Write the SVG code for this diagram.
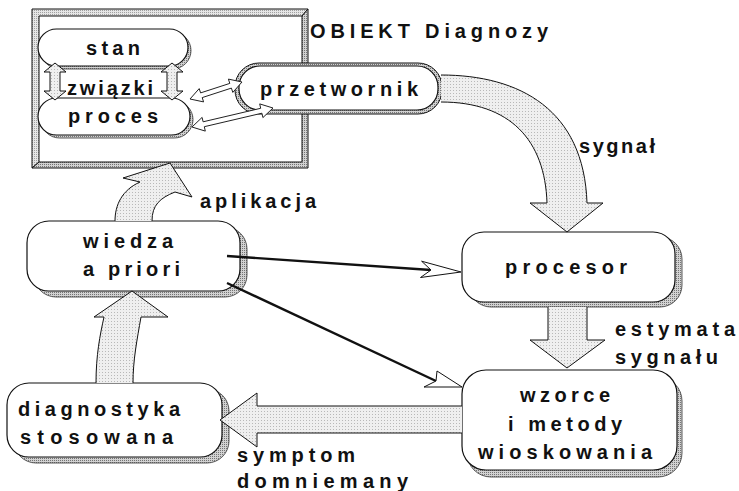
<svg xmlns="http://www.w3.org/2000/svg" width="739" height="491" viewBox="0 0 739 491">
  <defs>
    <!-- light stipple for block arrows -->
    <pattern id="stipple" width="3" height="3" patternUnits="userSpaceOnUse">
      <rect width="3" height="3" fill="#efefef"/>
      <rect width="1" height="1" fill="#b8b8b8"/>
    </pattern>
    <!-- darker hatch for shadows and frame -->
    <pattern id="hatch" width="2" height="2" patternUnits="userSpaceOnUse">
      <rect width="2" height="2" fill="#d2d2d2"/>
      <rect width="1" height="1" fill="#747474"/>
    </pattern>
    <pattern id="hatchLight" width="2" height="2" patternUnits="userSpaceOnUse">
      <rect width="2" height="2" fill="#e6e6e6"/>
      <rect width="1" height="1" fill="#a0a0a0"/>
    </pattern>
    <style>
      .lbl { font-family: "Liberation Sans", Arial, sans-serif; font-weight: bold; font-size: 20px; fill: #111; }
      .box { fill: #fff; stroke: #111; stroke-width: 1.2; }
      .shadow { fill: url(#hatch); stroke: #333; stroke-width: 0.8; }
      .block { fill: url(#stipple); stroke: #111; stroke-width: 1; stroke-linejoin: miter; }
      .dbl { fill: #fff; stroke: #222; stroke-width: 1; }
      .line { stroke: #111; stroke-width: 2.4; fill: none; }
      .head { fill: #fff; stroke: #111; stroke-width: 1; }
    </style>
  </defs>

  <rect width="739" height="491" fill="#fff"/>

  <!-- object frame -->
  <g id="obiekt">
    <polygon points="32,9 308,9 302,16 39,16 39,162 32,168" fill="url(#hatchLight)" stroke="#111" stroke-width="1"/>
    <polygon points="308,9 308,168 32,168 39,162 302,162 302,16" fill="url(#hatch)" stroke="#111" stroke-width="1"/>
    <text class="lbl" x="310" y="38" textLength="238" lengthAdjust="spacing">OBIEKT Diagnozy</text>
  </g>

  <g id="stan">
    <rect class="shadow" x="41" y="32" width="150" height="37" rx="18.5"/>
    <rect class="box" x="38" y="29" width="150" height="37" rx="18.5"/>
    <text class="lbl" x="86" y="55" textLength="54" lengthAdjust="spacing">stan</text>
  </g>

  <g id="proces">
    <rect class="shadow" x="41" y="101" width="152" height="37" rx="18.5"/>
    <rect class="box" x="38" y="98" width="152" height="37" rx="18.5"/>
    <text class="lbl" x="68" y="123" textLength="90" lengthAdjust="spacing">proces</text>
  </g>

  <g id="zwiazki">
    <text class="lbl" x="67" y="95" textLength="86" lengthAdjust="spacing">związki</text>
  </g>

  <g id="przetwornik">
    <rect x="235" y="63" width="207" height="51" rx="24" fill="url(#hatch)" stroke="#111" stroke-width="1"/>
    <rect class="box" x="239" y="66" width="199" height="44" rx="21"/>
    <text class="lbl" x="260" y="96" textLength="158" lengthAdjust="spacing">przetwornik</text>
  </g>

  <g id="wiedza">
    <rect class="shadow" x="34" y="227" width="213" height="70" rx="22"/>
    <rect class="box" x="27" y="221" width="213" height="70" rx="22"/>
    <text class="lbl" x="83" y="248" textLength="90" lengthAdjust="spacing">wiedza</text>
    <text class="lbl" x="83" y="276" textLength="97" lengthAdjust="spacing">a priori</text>
  </g>

  <g id="procesor">
    <rect class="shadow" x="469" y="237" width="213" height="70" rx="22"/>
    <rect class="box" x="462" y="232" width="213" height="70" rx="22"/>
    <text class="lbl" x="505" y="274" textLength="122" lengthAdjust="spacing">procesor</text>
  </g>

  <g id="wzorce">
    <rect class="shadow" x="467" y="377" width="215" height="100" rx="24"/>
    <rect class="box" x="462" y="370" width="215" height="100" rx="24"/>
    <text class="lbl" x="520" y="402" textLength="90" lengthAdjust="spacing">wzorce</text>
    <text class="lbl" x="508" y="431" textLength="114" lengthAdjust="spacing">i metody</text>
    <text class="lbl" x="478" y="459" textLength="174" lengthAdjust="spacing">wioskowania</text>
  </g>

  <g id="diagnostyka">
    <rect class="shadow" x="14" y="389" width="215" height="74" rx="22"/>
    <rect class="box" x="7" y="383" width="215" height="74" rx="22"/>
    <text class="lbl" x="18" y="416" textLength="162" lengthAdjust="spacing">diagnostyka</text>
    <text class="lbl" x="20" y="444" textLength="153" lengthAdjust="spacing">stosowana</text>
  </g>

  <!-- connectors -->
  <g id="connectors">
    <!-- stan <-> proces -->
    <polygon class="block" points="55,63 66,72 60,72 60,91 66,91 55,100 44,91 50,91 50,72 44,72"/>
    <polygon class="block" points="172,63 183,72 177,72 177,91 183,91 172,100 161,91 167,91 167,72 161,72"/>
    <!-- stan / proces <-> przetwornik -->
    <polygon class="dbl" points="190,99 203.6,101.9 202.2,97.6 231.4,88.1 232.8,92.4 242,82 228.4,79.1 229.8,83.4 200.6,92.9 199.2,88.6"/>
    <polygon class="dbl" points="192,127 205.3,131.1 204.3,126.7 261.9,113.2 262.9,117.6 273,108 259.7,103.9 260.7,108.3 203.1,121.8 202.1,117.4"/>

    <!-- sygnal: przetwornik -> procesor -->
    <path class="block" d="M441,75 C520,75 584,110 587,203 L603,203 L567,232 L530,203 L547,203 C545,140 510,102 441,102"/>
    <text class="lbl" x="579" y="153" textLength="76" lengthAdjust="spacing">sygnał</text>

    <!-- estymata sygnalu: procesor -> wzorce -->
    <path class="block" d="M548,307 L548,340 L530,340 L567,368 L605,340 L587,340 L587,307"/>
    <text class="lbl" x="615" y="336" textLength="120" lengthAdjust="spacing">estymata</text>
    <text class="lbl" x="615" y="364" textLength="103" lengthAdjust="spacing">sygnału</text>

    <!-- symptom domniemany: wzorce -> diagnostyka -->
    <path class="block" d="M462,406 L257,406 L257,393 L220,420 L257,447 L257,433 L462,433"/>
    <text class="lbl" x="237" y="462" textLength="118" lengthAdjust="spacing">symptom</text>
    <text class="lbl" x="237" y="488" textLength="171" lengthAdjust="spacing">domniemany</text>

    <!-- diagnostyka -> wiedza -->
    <path class="block" d="M96,383 C96,355 100,335 104,317 L94,317 L132,291 L168,317 L141,317 C137,340 133,360 133,383"/>

    <!-- aplikacja: wiedza -> obiekt -->
    <path class="block" d="M115,221 C115,205 122,190 140,182 L123,178 L170,163 L192,197 L175,192 C160,198 152,205 152,221"/>
    <text class="lbl" x="200" y="208" textLength="116" lengthAdjust="spacing">aplikacja</text>

    <!-- wiedza -> procesor -->
    <line class="line" x1="227" y1="256" x2="431" y2="270"/>
    <polygon class="head" points="461,272 421.6,261.2 431,270 420.5,277.5"/>
    <!-- wiedza -> wzorce -->
    <line class="line" x1="227" y1="283" x2="436" y2="381"/>
    <polygon class="head" points="462,387 437,371 436,381 424,387"/>
  </g>
</svg>
